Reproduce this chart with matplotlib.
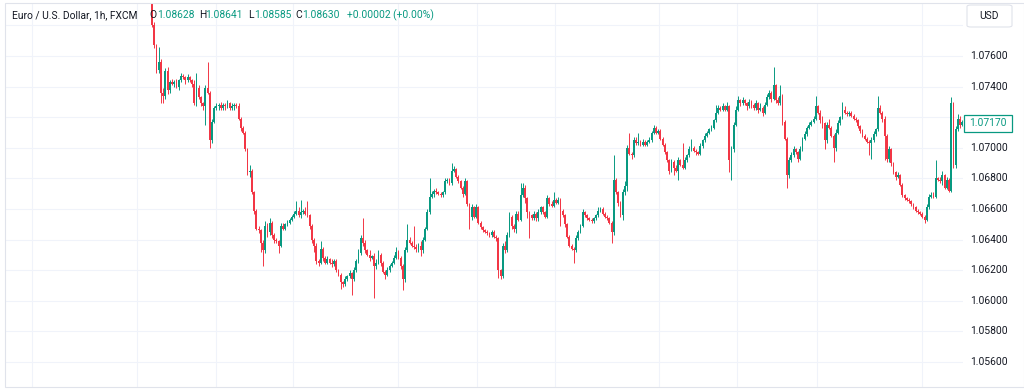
import matplotlib
matplotlib.use("Agg")
import matplotlib.pyplot as plt
from matplotlib.patches import Rectangle, FancyBboxPatch
import numpy as np

W, H = 1024, 392

# ---------------- data (prices in pips = price*10000) -------------
first_open_pips = 10815
close_pips = [
    10780, 10767, 10751, 10756, 10736, 10734, 10750, 10738, 10743, 10742, 10743, 10740, 10744, 10747, 10746, 10744, 10746, 10744, 10742, 10729,
    10739, 10733, 10729, 10727, 10739, 10736, 10705, 10717, 10726, 10727, 10728, 10726, 10728, 10727, 10729, 10726, 10727, 10728, 10727, 10719,
    10713, 10710, 10699, 10684, 10685, 10671, 10659, 10647, 10646, 10638, 10633, 10649, 10645, 10651, 10643, 10640, 10639, 10636, 10649, 10647,
    10650, 10651, 10653, 10655, 10657, 10659, 10656, 10658, 10659, 10657, 10656, 10649, 10640, 10636, 10626, 10625, 10634, 10628, 10625, 10627,
    10625, 10624, 10626, 10620, 10617, 10612, 10611, 10614, 10616, 10618, 10614, 10620, 10626, 10631, 10641, 10638, 10633, 10630, 10628, 10629,
    10623, 10625, 10630, 10625, 10619, 10617, 10620, 10623, 10625, 10628, 10632, 10628, 10623, 10614, 10633, 10640, 10638, 10636, 10635, 10634,
    10636, 10633, 10640, 10647, 10658, 10668, 10670, 10672, 10671, 10670, 10669, 10671, 10678, 10679, 10677, 10685, 10686, 10681, 10678, 10674,
    10670, 10678, 10663, 10655, 10661, 10655, 10661, 10651, 10648, 10646, 10645, 10644, 10643, 10645, 10642, 10641, 10620, 10616, 10636, 10633,
    10643, 10655, 10649, 10647, 10657, 10653, 10669, 10674, 10667, 10658, 10656, 10654, 10657, 10654, 10658, 10661, 10658, 10655, 10667, 10663,
    10662, 10666, 10664, 10666, 10659, 10656, 10650, 10642, 10636, 10634, 10633, 10641, 10645, 10649, 10658, 10656, 10654, 10653, 10652, 10654,
    10656, 10659, 10660, 10657, 10655, 10654, 10651, 10645, 10679, 10671, 10664, 10656, 10671, 10675, 10700, 10696, 10695, 10705, 10703, 10704,
    10702, 10704, 10702, 10704, 10705, 10710, 10713, 10710, 10711, 10706, 10702, 10697, 10692, 10685, 10691, 10687, 10685, 10692, 10689, 10687,
    10692, 10695, 10699, 10700, 10698, 10697, 10696, 10701, 10705, 10708, 10710, 10712, 10713, 10718, 10723, 10726, 10725, 10727, 10725, 10727,
    10692, 10699, 10715, 10725, 10731, 10729, 10731, 10729, 10727, 10730, 10728, 10726, 10729, 10725, 10726, 10723, 10728, 10733, 10736, 10732,
    10741, 10731, 10729, 10734, 10717, 10706, 10682, 10692, 10695, 10699, 10697, 10693, 10699, 10706, 10709, 10713, 10715, 10717, 10719, 10727,
    10723, 10718, 10716, 10705, 10715, 10713, 10708, 10700, 10710, 10716, 10720, 10725, 10723, 10722, 10723, 10721, 10719, 10718, 10714, 10711,
    10708, 10706, 10704, 10703, 10705, 10709, 10712, 10726, 10723, 10719, 10708, 10693, 10699, 10690, 10684, 10681, 10682, 10676, 10669, 10667,
    10666, 10665, 10663, 10661, 10659, 10658, 10657, 10655, 10653, 10661, 10668, 10669, 10668, 10680, 10679, 10678, 10682, 10674, 10679, 10672,
    10729, 10689, 10712, 10719, 10715, 10717,
]
upper_wick_pips = [
    2, 2, 1, 10, 2, 3, 2, 3, 1, 2, 1, 2, 1, 2, 1, 1, 2, 1, 1, 2,
    10, 2, 1, 1, 2, 17, 1, 2, 1, 2, 1, 2, 1, 1, 2, 1, 2, 1, 1, 2,
    1, 1, 1, 1, 4, 1, 1, 1, 2, 1, 2, 3, 2, 3, 1, 1, 1, 1, 2, 2,
    1, 2, 1, 1, 2, 6, 2, 8, 1, 2, 8, 1, 1, 1, 2, 1, 5, 1, 1, 2,
    1, 2, 1, 1, 1, 1, 1, 2, 1, 2, 1, 2, 1, 3, 2, 13, 2, 1, 3, 1,
    2, 2, 3, 1, 1, 1, 2, 1, 1, 2, 3, 1, 1, 1, 2, 10, 2, 1, 13, 2,
    2, 3, 2, 1, 2, 12, 2, 1, 2, 1, 1, 1, 2, 1, 1, 5, 2, 1, 1, 1,
    1, 2, 1, 1, 2, 1, 2, 1, 1, 1, 1, 1, 1, 1, 1, 1, 1, 1, 2, 3,
    2, 3, 1, 1, 2, 2, 8, 3, 2, 1, 1, 1, 2, 1, 2, 1, 1, 1, 2, 1,
    2, 5, 1, 2, 1, 1, 1, 1, 1, 1, 1, 2, 1, 1, 2, 1, 1, 1, 1, 1,
    1, 2, 1, 1, 1, 1, 1, 1, 16, 1, 1, 1, 2, 3, 2, 10, 1, 2, 2, 6,
    1, 2, 1, 1, 2, 1, 2, 1, 1, 1, 1, 1, 1, 1, 2, 1, 2, 2, 1, 14,
    2, 1, 2, 6, 1, 1, 1, 2, 1, 2, 1, 1, 2, 1, 5, 2, 1, 2, 1, 3,
    1, 2, 2, 2, 3, 1, 2, 1, 1, 2, 1, 1, 2, 1, 3, 1, 2, 2, 2, 1,
    12, 1, 2, 7, 1, 1, 1, 2, 2, 2, 1, 1, 2, 1, 2, 1, 2, 1, 2, 7,
    1, 2, 3, 1, 2, 4, 1, 1, 2, 2, 1, 5, 2, 1, 1, 1, 1, 1, 1, 1,
    1, 1, 1, 1, 2, 2, 1, 8, 2, 1, 2, 1, 2, 1, 1, 1, 2, 1, 1, 1,
    1, 1, 1, 1, 1, 1, 1, 1, 1, 2, 2, 2, 2, 12, 1, 2, 3, 1, 2, 1,
    4, 1, 2, 3, 2, 1,
]
lower_wick_pips = [
    1, 2, 2, 2, 7, 5, 2, 3, 2, 1, 2, 1, 2, 1, 1, 2, 1, 1, 2, 1,
    2, 1, 2, 2, 12, 1, 5, 2, 1, 1, 2, 1, 1, 2, 1, 1, 1, 2, 1, 1,
    2, 1, 1, 2, 3, 1, 2, 1, 2, 6, 10, 2, 3, 2, 2, 2, 1, 5, 1, 1,
    1, 1, 1, 1, 1, 1, 1, 2, 1, 1, 1, 2, 2, 4, 2, 2, 1, 2, 1, 1,
    1, 2, 1, 1, 1, 4, 2, 1, 1, 1, 10, 1, 1, 1, 1, 2, 2, 1, 2, 1,
    21, 2, 1, 2, 1, 3, 1, 1, 1, 1, 1, 1, 2, 7, 2, 1, 1, 1, 1, 2,
    2, 4, 2, 1, 1, 1, 1, 2, 1, 1, 1, 1, 1, 1, 1, 1, 1, 1, 1, 1,
    2, 1, 1, 8, 2, 1, 1, 1, 1, 1, 1, 1, 1, 1, 1, 2, 5, 2, 1, 2,
    1, 1, 2, 2, 3, 1, 1, 1, 3, 4, 15, 1, 1, 2, 2, 1, 1, 1, 1, 1,
    1, 1, 1, 1, 10, 1, 2, 1, 1, 1, 8, 1, 1, 1, 1, 1, 1, 1, 1, 1,
    1, 1, 1, 1, 1, 1, 1, 7, 2, 1, 2, 1, 3, 2, 3, 1, 2, 1, 1, 1,
    1, 1, 1, 1, 1, 1, 1, 1, 1, 1, 1, 1, 1, 2, 1, 5, 1, 6, 1, 1,
    1, 1, 1, 1, 1, 2, 1, 1, 1, 1, 1, 1, 1, 1, 1, 1, 1, 1, 1, 1,
    8, 13, 2, 1, 1, 2, 1, 1, 2, 1, 2, 1, 1, 2, 1, 2, 1, 1, 1, 2,
    1, 2, 1, 1, 2, 1, 8, 2, 1, 1, 1, 2, 1, 1, 1, 1, 1, 1, 1, 1,
    1, 2, 3, 6, 2, 1, 1, 9, 2, 1, 1, 1, 1, 1, 1, 1, 1, 1, 1, 1,
    1, 1, 1, 8, 10, 1, 1, 1, 1, 2, 16, 2, 2, 2, 1, 2, 1, 1, 1, 1,
    1, 1, 1, 1, 1, 1, 1, 1, 2, 1, 1, 1, 1, 1, 1, 1, 2, 1, 1, 1,
    1, 2, 2, 1, 2, 1,
]
# price-scale labels (1.07200 sits under the last-price tag in the reference)
price_levels = [1.056, 1.058, 1.060, 1.062, 1.064, 1.066, 1.068, 1.070, 1.074, 1.076]
price_labels = ["1.05600", "1.05800", "1.06000", "1.06200", "1.06400", "1.06600",
                "1.06800", "1.07000", "1.07400", "1.07600"]
grid_levels = [1.056, 1.058, 1.060, 1.062, 1.064, 1.066, 1.068, 1.070, 1.072, 1.074, 1.076, 1.078]
last_price = "1.07170"
legend_title = "Euro / U.S. Dollar, 1h, FXCM"
legend_fields = [("O", "1.08628"), ("H", "1.08641"), ("L", "1.08585"), ("C", "1.08630")]
legend_change = "+0.00002 (+0.00%)"
currency = "USD"

# ---------------- styling / layout -------------
UP = "#089981"
DOWN = "#F23645"
TXT = "#131722"
GRID = "#f0f3fa"
FONT = ["Roboto", "DejaVu Sans"]
FS = 7.4
plt.rcParams["font.family"] = FONT

n = min(len(close_pips), len(upper_wick_pips), len(lower_wick_pips))
close = np.array(close_pips[:n]) / 10000.0
opens = np.concatenate([[first_open_pips / 10000.0], close[:-1]])
highs = np.maximum(opens, close) + np.array(upper_wick_pips[:n]) / 10000.0
lows = np.minimum(opens, close) - np.array(lower_wick_pips[:n]) / 10000.0
idx = np.arange(n)
up = close >= opens
colors = np.where(up, UP, DOWN)

fig = plt.figure(figsize=(W / 100, H / 100), dpi=100)
fig.patch.set_facecolor("white")

ax_l, ax_r, ax_t, ax_b = 5, 963, 3, 387
ax = fig.add_axes([ax_l / W, 1 - ax_b / H, (ax_r - ax_l) / W, (ax_b - ax_t) / H])
ax.set_facecolor("white")
for s in ax.spines.values():
    s.set_visible(False)
ax.set_xticks([])
ax.set_yticks([])

spacing = 2.22  # px per candle
x0px = 152
ax.set_xlim((ax_l - x0px) / spacing, (ax_r - x0px) / spacing)
px_per_price = 15300.0
ax.set_ylim(1.076 - (ax_b - 56) / px_per_price, 1.076 + (56 - ax_t) / px_per_price)

# grid
for lv in grid_levels:
    ax.axhline(lv, color=GRID, lw=0.8, zorder=0)
vgrid_px = [32, 137, 216, 293, 398, 477, 555, 659, 737, 817, 922]
for vx in vgrid_px:
    ax.axvline((vx - x0px) / spacing, color=GRID, lw=0.8, zorder=0)

# candles
ax.vlines(idx, lows, highs, colors=colors, lw=0.7, zorder=3)
body_h = np.maximum(np.abs(close - opens), 0.00004)
ax.bar(idx, body_h, bottom=np.minimum(opens, close), width=0.8,
       color=colors, linewidth=0, zorder=4)

# price axis labels
for lv, lab in zip(price_levels, price_labels):
    ax.text(1 + 7 / (ax_r - ax_l), lv, lab, transform=ax.get_yaxis_transform(),
            ha="left", va="center", fontsize=FS, color=TXT, clip_on=False, zorder=5)

def fx(px):
    return px / W

def fy(py):
    return 1 - py / H

# current price label box
box = Rectangle((fx(964), fy(131.5)), 48 / W, 16.5 / H, transform=fig.transFigure,
                facecolor="white", edgecolor=UP, lw=0.9, zorder=10)
fig.add_artist(box)
fig.text(fx(988), fy(123.2), last_price, ha="center", va="center", fontsize=FS,
         color=UP, zorder=11)

# currency box
ubox = FancyBboxPatch((fx(967), fy(27)), 45 / W, 22 / H, transform=fig.transFigure,
                      boxstyle="round,pad=0,rounding_size=0.004", facecolor="white",
                      edgecolor="#e0e3eb", lw=0.8, zorder=10)
fig.add_artist(ubox)
fig.text(fx(989.5), fy(16), currency, ha="center", va="center", fontsize=FS,
         color=TXT, zorder=11)

# legend line
ly = fy(15.5)
fig.text(fx(12.5), ly, legend_title, ha="left", va="center", fontsize=FS, color=TXT, zorder=1)
label_px = [(149.5, 157), (199, 205.5), (248.5, 254), (295, 302)]
for (k, v), (kx, vx) in zip(legend_fields, label_px):
    fig.text(fx(kx), ly, k, ha="left", va="center", fontsize=FS, color=TXT, zorder=1)
    fig.text(fx(vx), ly, v, ha="left", va="center", fontsize=FS, color=UP, zorder=1)
fig.text(fx(347), ly, legend_change, ha="left", va="center", fontsize=FS, color=UP, zorder=1)

# outer frame
frame = Rectangle((fx(5), fy(387)), (1023.5 - 5) / W, (387 - 3) / H, transform=fig.transFigure,
                  fill=False, edgecolor="#e0e3eb", lw=0.8, zorder=12)
fig.add_artist(frame)

fig.savefig("out.png", dpi=100, facecolor="white")
